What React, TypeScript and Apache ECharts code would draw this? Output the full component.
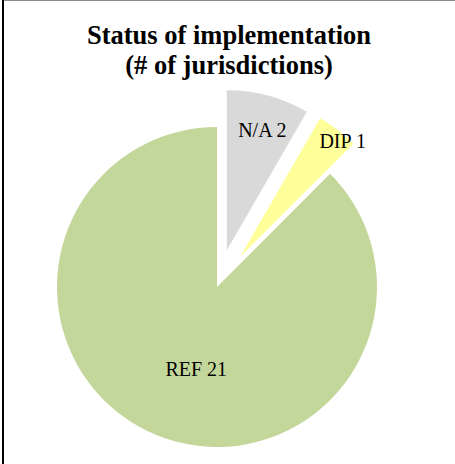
import React, { useEffect, useRef } from "react";
import * as echarts from "echarts";

const titleLines = ["Status of implementation", "(# of jurisdictions)"];
const categories = ["N/A", "DIP", "REF"];
const values = [2, 1, 21];
const exploded = [true, true, false];
const colors = ["#D9D9D9", "#FFFF99", "#C4D79B"];
// label nudges (layout only)
const labelShift = [
  [14, -40],
  [52, -50],
  [11, 5],
];

export default function App() {
  const ref = useRef<HTMLDivElement>(null);
  useEffect(() => {
    if (!ref.current) return;
    const chart = echarts.init(ref.current, undefined, { renderer: "svg" });
    const data = categories.map((name, i) => ({
      name,
      value: values[i],
      selected: exploded[i],
      itemStyle: { color: colors[i] },
      select: { itemStyle: { color: colors[i], borderWidth: 0 } },
      emphasis: { itemStyle: { color: colors[i] } },
    }));
    chart.setOption({
      animation: false,
      backgroundColor: "#ffffff",
      title: {
        text: titleLines.join("\n"),
        left: 229,
        textAlign: "center",
        top: 20,
        padding: 0,
        textStyle: {
          fontFamily: "Liberation Serif",
          fontWeight: "bold",
          fontSize: 26.5,
          lineHeight: 30,
          color: "#000000",
        },
      },
      graphic: [
        {
          type: "line",
          shape: { x1: 3, y1: 0, x2: 3, y2: 464 },
          style: { stroke: "#000000", lineWidth: 2 },
        },
        {
          type: "line",
          shape: { x1: 4, y1: 0.5, x2: 455, y2: 0.5 },
          style: { stroke: "#8c8c8c", lineWidth: 1 },
        },
      ],
      series: [
        {
          type: "pie",
          center: [217, 287],
          radius: [0, 160],
          startAngle: 90,
          clockwise: true,
          selectedMode: "multiple",
          selectedOffset: 38,
          avoidLabelOverlap: false,
          emphasis: { disabled: true },
          label: {
            show: true,
            position: "inside",
            formatter: (p: any) => `${p.name} ${p.value}`,
            fontFamily: "Liberation Serif",
            fontSize: 20,
            color: "#000000",
          },
          labelLine: { show: false },
          labelLayout: (p: any) => ({
            dx: labelShift[p.dataIndex][0],
            dy: labelShift[p.dataIndex][1],
          }),
          data,
        },
      ],
    });
    return () => chart.dispose();
  }, []);
  return (
    <div
      ref={ref}
      style={{ position: "fixed", left: 0, top: 0, width: 455, height: 464 }}
    />
  );
}
